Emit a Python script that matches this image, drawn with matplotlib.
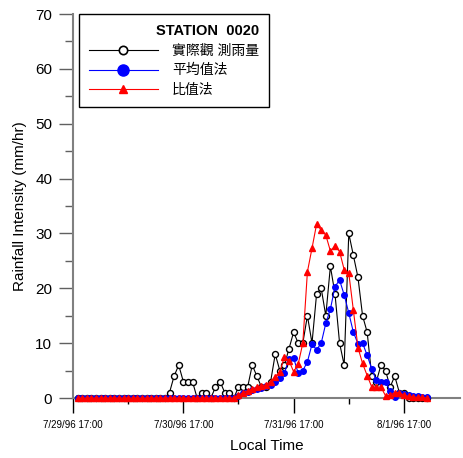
import numpy as np
import matplotlib.pyplot as plt
from matplotlib.lines import Line2D

plt.rcParams['font.family'] = ['Liberation Sans', 'Noto Sans CJK TC', 'DejaVu Sans']

# hourly data, hours counted from 7/29/96 17:00
hours = np.arange(1, 78)

observed = ([0] * 20 +
            [1, 4, 6, 3, 3, 3, 0, 1, 1, 0, 2, 3, 1, 1, 0] +
            [2, 2, 2, 6, 4, 2, 2, 3, 8, 5, 6, 9, 12, 10, 10] +
            [15, 10, 19, 20, 15, 24, 19, 10, 6, 30, 26, 22, 15, 12, 4] +
            [3, 6, 5, 2, 4, 1, 1] +
            [0] * 5)

mean_method = ([0] * 34 +
               [0, 0.4, 0.9, 1.1, 1.5, 1.6, 1.8, 2.1, 2.4, 3, 3.6, 4.5, 7.2, 7.3, 4.5, 5] +
               [6.6, 9.8, 8.8, 10, 13.6, 16.2, 20.3, 21.5, 18.8, 15.5, 12, 9.9, 10, 7.8, 5.3] +
               [3.2, 3, 3, 1.2, 0.2, 1, 0.8, 0.5, 0.4, 0.3, 0.2, 0.1])

ratio_method = ([0] * 35 +
                [0.5, 1, 1.3, 1.6, 2, 2.2, 2.4, 3, 3.9, 4.8, 7.5, 6.8, 4.8, 6.2, 10] +
                [23, 27.3, 31.7, 30.6, 29.7, 26.8, 27.7, 26.7, 23.4, 22.8, 16, 9.2, 6.3, 4.1, 2] +
                [2, 2, 0.4, 0.5, 1, 1, 0.5, 0.3, 0.2, 0.1, 0.1, 0])

tick_pos = [0, 24, 48, 72]
tick_labels = ['7/29/96 17:00', '7/30/96 17:00', '7/31/96 17:00', '8/1/96 17:00']
labels = ['實際觀 測雨量', '平均值法', '比值法']

fig = plt.figure(figsize=(4.63, 4.58), dpi=100)
ax = fig.add_axes([73 / 463, 1 - 398 / 458, 387 / 463, 384 / 458])

ax.plot(hours, observed, color='black', lw=0.8, marker='o', ms=4.3,
        mfc='white', mec='black', mew=1.0, zorder=3, clip_on=False)
ax.plot(hours, mean_method, color='blue', lw=0.8, marker='o', ms=4.0,
        mfc='blue', mec='blue', zorder=4, clip_on=False)
ax.plot(hours, ratio_method, color='red', lw=0.8, marker='^', ms=4.3,
        mfc='red', mec='red', zorder=5, clip_on=False)

ax.set_xlim(0, 84.2)
ax.set_ylim(0, 70)
ax.set_xticks(tick_pos)
ax.set_xticklabels(tick_labels, fontsize=7)
ax.set_xticks([12, 36, 60], minor=True)
ax.set_yticks(np.arange(0, 71, 10))
ax.set_yticks(np.arange(5, 70, 10), minor=True)
ax.tick_params(axis='y', which='major', length=10, width=1, labelsize=11, pad=5, color='#606060')
ax.tick_params(axis='y', which='minor', length=6, width=1, color='#606060')
ax.tick_params(axis='x', which='major', length=11, width=1, pad=5, color='black')
ax.tick_params(axis='x', which='minor', length=4, width=1, color='black')

for s in ['top', 'right']:
    ax.spines[s].set_visible(False)
for s in ['left', 'bottom']:
    ax.spines[s].set_color('#808080')
    ax.spines[s].set_linewidth(1.5)

ax.set_xlabel('Local Time', fontsize=11, labelpad=6)
ax.set_ylabel('Rainfall Intensity (mm/hr)', fontsize=11, labelpad=6)

handles = [
    Line2D([], [], color='black', lw=0.8, marker='o', ms=6, mfc='white', mec='black', mew=1.2),
    Line2D([], [], color='blue', lw=0.8, marker='o', ms=8, mfc='blue', mec='blue'),
    Line2D([], [], color='red', lw=0.8, marker='^', ms=6, mfc='red', mec='red'),
]
leg = ax.legend(handles, labels, title='STATION  0020', loc='upper left',
                bbox_to_anchor=(0.015, 1.0), borderaxespad=0, fontsize=10,
                handlelength=5.0, handletextpad=1.0, labelspacing=0.42,
                borderpad=0.7, fancybox=False, framealpha=1, edgecolor='black',
                alignment='right')
leg.get_title().set_fontweight('bold')
leg.get_title().set_fontsize(10.5)
leg.get_frame().set_linewidth(1.0)

fig.savefig('out.png', dpi=100)
